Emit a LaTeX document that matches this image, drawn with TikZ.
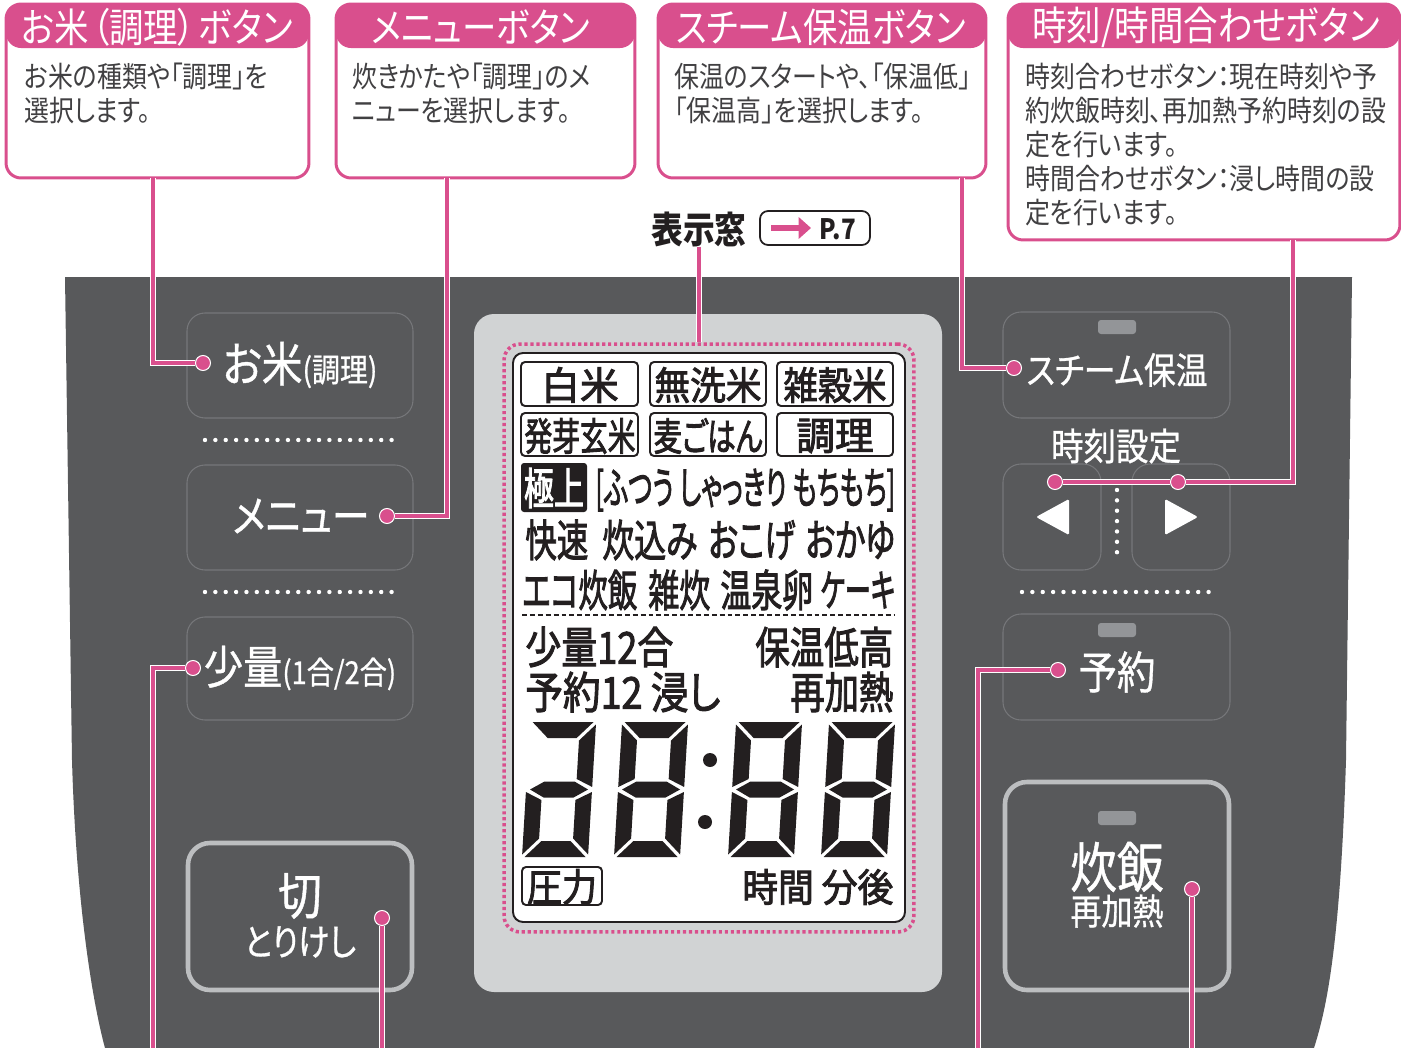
\documentclass[tikz,border=0pt]{standalone}
\usepackage{fontspec}
\usepackage{graphicx}
\newfontfamily\jp{Noto Sans CJK JP}[FakeStretch=0.86,RawFeature=+palt]
\newfontfamily\jpkey{Noto Sans CJK JP}[FakeStretch=0.86,FakeBold=0.8,RawFeature=+palt]
\newfontfamily\jplcd{Noto Sans CJK JP}[FakeBold=2.4,RawFeature=+palt]
\usetikzlibrary{arrows.meta, positioning, calc}
\definecolor{guidepink}{HTML}{D94F8D}
\definecolor{panelgray}{HTML}{58595B}
\definecolor{keyedge}{HTML}{76777A}
\definecolor{lampgray}{HTML}{939598}
\definecolor{bezelgray}{HTML}{D1D3D4}
\definecolor{inkblack}{HTML}{231F20}
\definecolor{notegray}{HTML}{414042}
\definecolor{ringgray}{HTML}{BCBEC0}
\colorlet{colGuide}{guidepink}
\colorlet{colPanel}{panelgray}
\colorlet{colKeyEdge}{keyedge}
\colorlet{colLamp}{lampgray}
\colorlet{colBezel}{bezelgray}
\colorlet{colInk}{inkblack}
\colorlet{colNote}{notegray}
\colorlet{colRing}{ringgray}
\newcommand{\lcdfit}[2]{\resizebox{#1}{\height}{#2}}
\newcommand{\segA}{(2.5,-135) -- (63.5,-135) -- (47.5,-119) -- (18.5,-119) -- cycle}
\newcommand{\segB}{(66,-132.5) -- (50,-116.5) -- (50,-78) -- (66,-70) -- cycle}
\newcommand{\segC}{(66,-2.5) -- (50,-18.5) -- (50,-57) -- (66,-65) -- cycle}
\newcommand{\segD}{(2.5,0) -- (63.5,0) -- (47.5,-16) -- (18.5,-16) -- cycle}
\newcommand{\segE}{(0,-2.5) -- (16,-18.5) -- (16,-57) -- (0,-65) -- cycle}
\newcommand{\segF}{(0,-132.5) -- (16,-116.5) -- (16,-78) -- (0,-70) -- cycle}
\newcommand{\segG}{(4,-67.5) -- (18,-75.5) -- (48,-75.5) -- (62,-67.5) -- (48,-59.5) -- (18,-59.5) -- cycle}
\tikzset{
  calloutBox/.style={
    draw=colGuide, line width=1.7pt, rounded corners=0.3cm,
    fill=white, inner sep=0pt,
    path picture={\fill[colGuide] (path picture bounding box.north west)
      rectangle ([yshift=-0.88cm]path picture bounding box.north east);}
  },
  calloutHead/.style={font=\jp\fontsize{22.8}{24}\selectfont, text=white, inner sep=0pt},
  calloutText/.style={font=\jp\fontsize{16.5}{19.3}\selectfont, text=colNote,
    align=left, inner sep=0pt, anchor=north west},
  keyBox/.style={draw=colKeyEdge, line width=0.6pt, rounded corners=0.36cm},
  bigKey/.style={draw=colRing, line width=2.6pt, rounded corners=0.44cm},
  keyLamp/.style={fill=colLamp, rounded corners=0.06cm},
  keyLabel/.style={font=\jpkey, text=white, inner sep=0pt},
  guideLine/.style={draw=white, line width=0.5pt, double=colGuide, double distance=2.2pt},
  guideDot/.style={circle, fill=colGuide, draw=white, line width=0.6pt,
    minimum size=0.3cm, inner sep=0pt},
  dotRow/.style={white, line width=2.5pt, line cap=round, dash pattern=on 0pt off 5.9pt},
  lcdFrame/.style={draw=colGuide, line width=2pt, dash pattern=on 1.8pt off 1.6pt,
    rounded corners=0.32cm, minimum width=8.2cm, minimum height=11.76cm, inner sep=0pt},
  lcdBox/.style={draw=colInk, line width=1.1pt, rounded corners=0.08cm},
  lcdText/.style={font=\jplcd\fontsize{25}{25}\selectfont, text=colInk, inner sep=0pt},
  lcdSmall/.style={font=\jplcd\fontsize{22}{22}\selectfont, text=colInk, inner sep=0pt},
  lcdEight/.pic={\fill[colInk, xslant=0.06] \segA \segB \segC \segD \segE \segF \segG;},
  lcdTwo/.pic={\fill[colInk, xslant=0.06] \segA \segB \segC \segD \segE \segG;},
}

\begin{document}
\begin{tikzpicture}[x=0.02cm, y=-0.02cm]
    \useasboundingbox (0,0) rectangle (1401,1048);
    \fill[colPanel] (65,277) -- (1352,277) -- (1346,760)
      .. controls (1340,950) and (1326,1010) .. (1314,1048) -- (105,1048)
      .. controls (92,1000) and (76,900) .. (72,760) -- cycle;

    \node[calloutBox, minimum width=6.06cm, minimum height=3.48cm] (box1) at (157.5,91) {};
    \node[calloutBox, minimum width=5.98cm, minimum height=3.48cm] (box2) at (485.5,91) {};
    \node[calloutBox, minimum width=6.56cm, minimum height=3.48cm] (box3) at (822,91) {};
    \node[calloutBox, minimum width=7.84cm, minimum height=4.72cm] (box4) at (1204,122) {};
    \node[calloutHead] (head1) at (157,27) {お米\kern2pt（調理）\kern2pt ボタン};
    \node[calloutHead] (head2) at (481,27) {メニューボタン};
    \node[calloutHead] (head3) at (821,27) {スチーム保温ボタン};
    \node[calloutHead] (head4) at (1206,27) {時刻/時間合わせボタン};
    \node[calloutText] (note1) at (24,63) {お米の種類や「調理」を\\選択します。};
    \node[calloutText] (note2) at (352,63) {炊きかたや「調理」のメ\\ニューを選択します。};
    \node[calloutText] (note3) at (674,63) {保温のスタートや、「保温低」\\「保温高」を選択します。};
    \node[calloutText] (note4) at (1025,63) {時刻合わせボタン：現在時刻や予\\約炊飯時刻、再加熱予約時刻の設\\定を行います。\\時間合わせボタン：浸し時間の設\\定を行います。};

    \node[font=\jp\bfseries\fontsize{21}{21}\selectfont, text=colInk, inner sep=0pt] (hyoji) at (699,229) {表示窓};
    \node[draw=colInk, line width=1pt, rounded corners=0.16cm, minimum width=2.2cm,
      minimum height=0.68cm, inner sep=0pt] (pref) at (815,228) {};
    \draw[colGuide, line width=3.2pt, -{Triangle[length=7pt, width=12pt]}] (771,228) -- (811,228);
    \node[font=\jp\bfseries\fontsize{16}{16}\selectfont, text=colInk, inner sep=0pt] (pnum) at (838,229) {P.7};

    \fill[colBezel, rounded corners=0.4cm] (474,314) rectangle (942,992);
    \node[lcdFrame] (lcdframe) at (709,638) {};
    \draw[colInk, line width=1.1pt, fill=white, rounded corners=0.2cm] (513,353) rectangle (905,922);

    \draw[lcdBox] (521,362) rectangle (638,406);
    \draw[lcdBox] (650,362) rectangle (766,406);
    \draw[lcdBox] (777,362) rectangle (893,406);
    \draw[lcdBox] (521,413) rectangle (638,456);
    \draw[lcdBox] (650,413) rectangle (766,456);
    \draw[lcdBox] (777,413) rectangle (893,456);
    \node[lcdSmall] (hakumai) at (580,385) {白米};
    \node[lcdSmall] (musenmai) at (708,385) {\lcdfit{2.14cm}{無洗米}};
    \node[lcdSmall] (zakkoku) at (835,385) {\lcdfit{2.06cm}{雑穀米}};
    \node[lcdSmall] (hatsuga) at (580,436) {\lcdfit{2.22cm}{発芽玄米}};
    \node[lcdSmall] (mugi) at (708,436) {\lcdfit{2.18cm}{麦ごはん}};
    \node[lcdSmall] (chori) at (835,436) {調理};
    \fill[colInk, rounded corners=0.06cm] (521,463) rectangle (587,512);
    \node[lcdText, text=white] (gokujo) at (554,488) {\lcdfit{1.2cm}{極上}};
    \node[lcdText, anchor=west] (kata) at (595,490) {\lcdfit{6.0cm}{[ふつう しゃっきり もちもち]}};
    \node[lcdText, anchor=west] (kaisoku) at (525,540) {\lcdfit{1.26cm}{快速}};
    \node[lcdText, anchor=west] (takikomi) at (602,540) {\lcdfit{1.9cm}{炊込み}};
    \node[lcdText, anchor=west] (okoge) at (708,540) {\lcdfit{1.74cm}{おこげ}};
    \node[lcdText, anchor=west] (okayu) at (805,540) {\lcdfit{1.8cm}{おかゆ}};
    \node[lcdText, anchor=west] (eco) at (522,590) {\lcdfit{2.3cm}{エコ炊飯}};
    \node[lcdText, anchor=west] (zosui) at (648,590) {\lcdfit{1.24cm}{雑炊}};
    \node[lcdText, anchor=west] (onsen) at (720,590) {\lcdfit{1.86cm}{温泉卵}};
    \node[lcdText, anchor=west] (cake) at (820,590) {\lcdfit{1.5cm}{ケーキ}};
    \draw[colInk, line width=1.6pt, dash pattern=on 2.8pt off 1.7pt] (522,615) -- (895,615);
    \node[lcdText, anchor=west] (shoryo) at (525,647) {\lcdfit{2.96cm}{少量12合}};
    \node[lcdText, anchor=west] (hoon) at (755,647) {\lcdfit{2.76cm}{保温低高}};
    \node[lcdText, anchor=west] (yoyakuL) at (525,692) {\lcdfit{3.9cm}{予約12 浸し}};
    \node[lcdText, anchor=west] (saikanetsu) at (790,692) {\lcdfit{2.06cm}{再加熱}};
    \pic at (522,857) {lcdTwo};
    \pic at (614,857) {lcdEight};
    \pic at (728,857) {lcdEight};
    \pic at (821,857) {lcdEight};
    \fill[colInk] (710,760) circle (7);
    \fill[colInk] (705,822) circle (7);
    \draw[lcdBox] (522,867) rectangle (602,905);
    \node[lcdSmall] (atsuryoku) at (562,887) {\lcdfit{1.4cm}{圧力}};
    \node[lcdSmall, anchor=west] (jikan) at (742,887) {\lcdfit{3.02cm}{時間 分後}};

    \draw[keyBox] (187,313) rectangle (413,418);
    \draw[keyBox] (187,465) rectangle (413,570);
    \draw[keyBox] (187,617) rectangle (413,720);
    \draw[bigKey] (188,843) rectangle (412,990);
    \draw[keyBox] (1003,312) rectangle (1230,418);
    \draw[keyBox] (1003,464) rectangle (1101,570);
    \draw[keyBox] (1132,464) rectangle (1230,570);
    \draw[keyBox] (1003,614) rectangle (1230,720);
    \draw[bigKey] (1005,782) rectangle (1229,990);
    \fill[keyLamp] (1098,320) rectangle (1136,334);
    \fill[keyLamp] (1098,623) rectangle (1136,637);
    \fill[keyLamp] (1098,811) rectangle (1136,825);
    \draw[dotRow] (205,440) -- (395,440);
    \draw[dotRow] (205,592) -- (395,592);
    \draw[dotRow] (1022,592) -- (1212,592);
    \draw[dotRow] (1117,490) -- (1117,553);
    \fill[white, rounded corners=0.03cm] (1036,517) -- (1069,499) -- (1069,535) -- cycle;
    \fill[white, rounded corners=0.03cm] (1165,499) -- (1198,517) -- (1165,535) -- cycle;

    \node[keyLabel] (lkome) at (300,365) {\fontsize{27}{27}\selectfont お米\fontsize{18.5}{18.5}\selectfont(調理)};
    \node[keyLabel] (lmenu) at (301,516) {\fontsize{25}{25}\selectfont メニュー};
    \node[keyLabel] (lshoryo) at (300,668) {\fontsize{26}{26}\selectfont 少量\fontsize{18}{18}\selectfont(1合/2合)};
    \node[keyLabel] (lkiri) at (300,896) {\fontsize{29}{29}\selectfont 切};
    \node[keyLabel] (lkiri2) at (300,942) {\fontsize{21}{21}\selectfont とりけし};
    \node[keyLabel] (lsteam) at (1117,370) {\fontsize{21}{21}\selectfont スチーム保温};
    \node[keyLabel] (ljikoku) at (1116,446) {\fontsize{21.5}{21.5}\selectfont 時刻設定};
    \node[keyLabel] (lyoyaku) at (1117,672) {\fontsize{25.5}{25.5}\selectfont 予約};
    \node[keyLabel] (lsuihan) at (1117,867) {\fontsize{31}{31}\selectfont 炊飯};
    \node[keyLabel] (lsuihan2) at (1117,911) {\fontsize{20.5}{20.5}\selectfont 再加熱};

    \node[guideDot] (dkome) at (203,363) {};
    \node[guideDot] (dmenu) at (387,516) {};
    \node[guideDot] (dshoryo) at (193,668) {};
    \node[guideDot] (dkiri) at (382,918) {};
    \node[guideDot] (dsteam) at (1014,368) {};
    \node[guideDot] (dleft) at (1055,482) {};
    \node[guideDot] (dright) at (1178,482) {};
    \node[guideDot] (dyoyaku) at (1058,670) {};
    \node[guideDot] (dsuihan) at (1192,889) {};
    \coordinate (c1) at (153,178);
    \coordinate (c2) at (447,178);
    \coordinate (c3) at (962,178);
    \coordinate (c4) at (1293,240);
    \coordinate (e1) at (153,1048);
    \coordinate (e2) at (382,1048);
    \coordinate (e3) at (978,1048);
    \coordinate (e4) at (1192,1048);
    \draw[guideLine] (c1) |- (dkome);
    \draw[guideLine] (c2) |- (dmenu);
    \draw[guideLine] (c3) |- (dsteam);
    \draw[guideLine] (c4) |- (dright);
    \draw[guideLine] (dright) -- (dleft);
    \draw[guideLine] (dshoryo) -| (e1);
    \draw[guideLine] (dkiri) -- (e2);
    \draw[guideLine] (dyoyaku) -| (e3);
    \draw[guideLine] (dsuihan) -- (e4);
    \draw[guideLine] (hyoji.south) -- (hyoji.south |- lcdframe.north);
  \end{tikzpicture}
\end{document}
